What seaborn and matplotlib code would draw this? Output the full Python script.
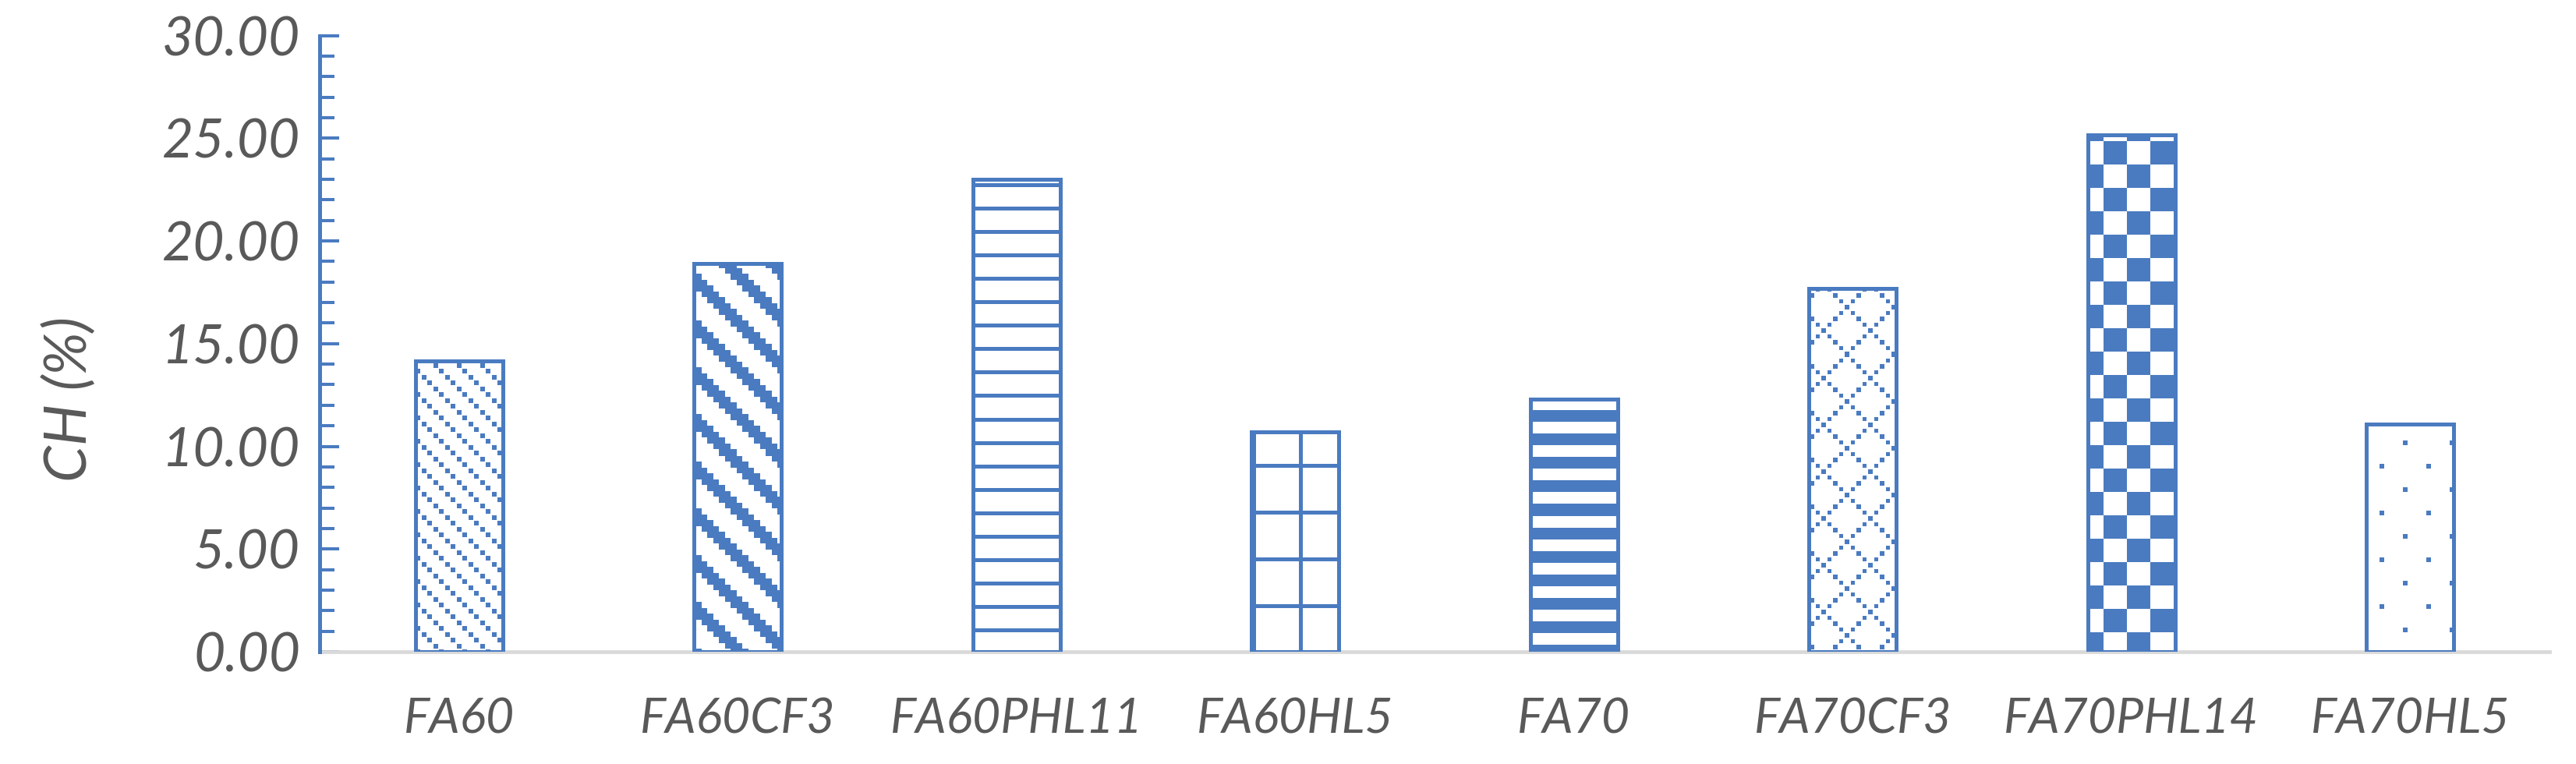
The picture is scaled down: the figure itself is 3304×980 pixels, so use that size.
import numpy as np
import pandas as pd
import matplotlib
matplotlib.use("Agg")
import matplotlib.pyplot as plt
import seaborn as sns
from matplotlib.ticker import MultipleLocator, FormatStrFormatter
from matplotlib.colors import to_rgb

# ---------------- data ----------------
categories = ["FA60", "FA60CF3", "FA60PHL11", "FA60HL5",
              "FA70", "FA70CF3", "FA70PHL14", "FA70HL5"]
ch_values = [14.15, 18.9, 23.0, 10.7, 12.3, 17.7, 25.15, 11.1]
fill_patterns = ["dotted_down_diag", "wide_down_diag", "light_horiz", "large_grid",
                 "dark_horiz", "dotted_diamond", "large_checker", "sparse_dots"]
y_label = "CH (%)"

# ---------------- style ----------------
BLUE = "#4A7BC0"
TEXT = "#595959"
GREY_AXIS = "#D9D9D9"
DPI = 100
W, H = 3304, 980

sns.set_theme(style="white")
plt.rcParams["font.family"] = ["Lato", "DejaVu Sans"]
plt.rcParams["font.style"] = "italic"

fig = plt.figure(figsize=(W / DPI, H / DPI), dpi=DPI)
ax = fig.add_axes([410 / W, (H - 836) / H, (3270 - 410) / W, (836 - 45.5) / H])

df = pd.DataFrame({"sample": categories, "ch": ch_values})
sns.barplot(data=df, x="sample", y="ch", order=categories, width=0.313,
            color="white", edgecolor=BLUE, linewidth=3.6, saturation=1,
            errorbar=None, ax=ax, zorder=3)

ax.set_xlim(-0.5, len(categories) - 0.5)
ax.set_ylim(0, 30)

# ---------------- pattern fills (Excel-like bitmap patterns) ----------------
U = 7.5  # size of one pattern "bitmap pixel" in output pixels


def pattern_mask(name, X, Y):
    if name == "dotted_diamond":
        Xp, Yp = X - 2369 + U / 2, Y - 515 + U / 2
    elif name == "large_checker":
        Xp, Yp = X - 2698, Y - 601
    elif name == "sparse_dots":
        Xp, Yp = X - 3055 + U / 2, Y - 658 + U / 2
    else:
        Xp, Yp = X, Y
    i = np.floor(Xp / U).astype(int)
    j = np.floor(Yp / U).astype(int)
    fx = Xp / U - i
    fy = Yp / U - j

    def dot(r):
        return (np.abs(fx - 0.5) * U <= r) & (np.abs(fy - 0.5) * U <= r)

    if name == "dotted_down_diag":
        return ((j - i) % 4 == 0) & dot(2.8)
    if name == "wide_down_diag":
        return (j - i) % 8 < 3
    if name == "light_horiz":
        return ((Y - 626) % 30) < 5
    if name == "large_grid":
        return (((Y - 655) % 60) < 5) | (((X - 1666) % 60) < 5)
    if name == "dark_horiz":
        return ((Y - 617) % 30) < 15
    if name == "dotted_diamond":
        return (((j - i) % 8 == 0) | ((j + i) % 8 == 0)) & dot(2.8)
    if name == "large_checker":
        return ((i // 4 + j // 4) % 2) == 0
    if name == "sparse_dots":
        return ((((i % 8) == 0) & ((j % 8) == 0)) |
                (((i % 8) == 4) & ((j % 8) == 4))) & dot(2.8)
    return np.zeros_like(X, dtype=bool)


fig.canvas.draw()
blue_rgb = np.array(to_rgb(BLUE))
inv = ax.transData.inverted()
bars = [p for p in ax.patches]
for patch, pname in zip(bars, fill_patterns):
    bb = patch.get_window_extent()
    x0, x1 = int(np.floor(bb.x0)), int(np.ceil(bb.x1))
    y0, y1 = int(np.floor(bb.y0)), int(np.ceil(bb.y1))
    cols = np.arange(x0, x1) + 0.5
    ys = y1 - np.arange(y1 - y0) - 0.5
    X, Yd = np.meshgrid(cols, ys)
    mask = pattern_mask(pname, X, H - Yd)
    rgba = np.ones(mask.shape + (4,))
    rgba[mask, :3] = blue_rgb
    dx0, dy0 = inv.transform((x0, y0))
    dx1, dy1 = inv.transform((x1, y1))
    im = ax.imshow(rgba, extent=(dx0, dx1, dy0, dy1), origin="upper",
                   interpolation="nearest", aspect="auto", zorder=2)
    im.set_clip_path(patch)
    patch.set_facecolor("none")

ax.set_xlim(-0.5, len(categories) - 0.5)
ax.set_ylim(0, 30)

# ---------------- axes styling ----------------
for side in ["top", "right"]:
    ax.spines[side].set_visible(False)
ax.spines["left"].set_color(BLUE)
ax.spines["left"].set_linewidth(3.6)
ax.spines["bottom"].set_color(GREY_AXIS)
ax.spines["bottom"].set_linewidth(3.4)
ax.spines["bottom"].set_zorder(1)

ax.yaxis.set_major_locator(MultipleLocator(5))
ax.yaxis.set_minor_locator(MultipleLocator(1))
ax.yaxis.set_major_formatter(FormatStrFormatter("%.2f"))
ax.tick_params(axis="y", which="major", left=True, direction="in", length=18,
               width=2.9, color=BLUE, pad=18, labelsize=50, labelcolor=TEXT)
ax.tick_params(axis="y", which="minor", left=True, direction="in", length=14,
               width=2.9, color=BLUE)
ax.tick_params(axis="x", bottom=False, length=0, pad=42, labelsize=45,
               labelcolor=TEXT)
ax.set_xlabel("")
ax.set_ylabel(y_label, fontsize=54, color=TEXT)
ax.yaxis.set_label_coords(-0.100, 0.41)

fig.savefig("out.png", dpi=DPI, facecolor="white")
